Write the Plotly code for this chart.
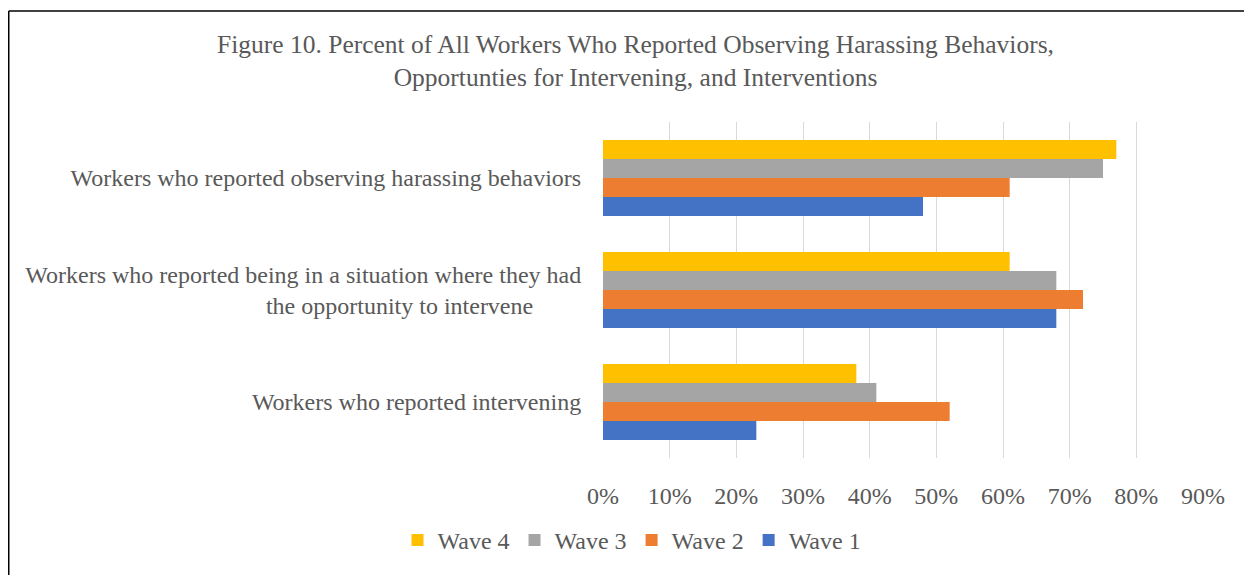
import plotly.graph_objects as go

categories = [
    "Workers who reported intervening",
    "Workers who reported being in a situation where they had<br>the opportunity to intervene" + "\u00a0" * 8,
    "Workers who reported observing harassing behaviors",
]
wave1 = [23, 68, 48]
wave2 = [52, 72, 61]
wave3 = [41, 68, 75]
wave4 = [38, 61, 77]
series_names = ["Wave 1", "Wave 2", "Wave 3", "Wave 4"]
series_colors = ["#4472C4", "#ED7D31", "#A5A5A5", "#FFC000"]
tick_vals = [0, 10, 20, 30, 40, 50, 60, 70, 80, 90]
tick_text = ["0%", "10%", "20%", "30%", "40%", "50%", "60%", "70%", "80%", "90%"]

FONT = "Liberation Serif, Times New Roman, serif"
GRAY = "#595959"

fig = go.Figure()
for name, vals, col in zip(series_names, [wave1, wave2, wave3, wave4], series_colors):
    fig.add_trace(go.Bar(
        y=categories, x=vals, name=name, orientation="h",
        marker=dict(color=col, line=dict(width=0)),
    ))

# page has an 8px body offset; work in figure coordinates
OFF = 8
W, H = 1252 - OFF, 575 - OFF
L, R, T, B = 603 - OFF, 1203 - OFF, 122 - OFF, 465 - OFF

fig.update_layout(
    width=W, height=H,
    margin=dict(l=L, r=W - R, t=T, b=H - B),
    paper_bgcolor="white", plot_bgcolor="white",
    barmode="group", bargap=0.32, bargroupgap=0,
    font=dict(family=FONT, color=GRAY, size=24),
    title=dict(
        text="Figure 10. Percent of All Workers Who Reported Observing Harassing Behaviors,<br>Opportunties for Intervening, and Interventions",
        x=(635.5 - OFF) / W, xanchor="center", xref="container",
        y=1 - 45 / H, yanchor="middle", yref="container",
        font=dict(family=FONT, size=25.5, color=GRAY),
    ),
    xaxis=dict(
        range=[0, 90], tickvals=tick_vals, ticktext=tick_text,
        showgrid=True, gridcolor="#D9D9D9", gridwidth=1.3,
        zeroline=False, showline=False,
        ticks="outside", ticklen=16, tickcolor="rgba(0,0,0,0)",
        tickfont=dict(family=FONT, size=24, color=GRAY),
    ),
    yaxis=dict(
        categoryorder="array", categoryarray=categories,
        showgrid=False, zeroline=False, showline=False,
        ticks="outside", ticklen=16, tickcolor="rgba(0,0,0,0)",
        tickfont=dict(family=FONT, size=24, color=GRAY),
    ),
    legend=dict(
        orientation="h", traceorder="reversed",
        x=(632 - OFF - L) / (R - L), xanchor="center",
        y=(B - (549 - OFF)) / (B - T), yanchor="middle",
        font=dict(family=FONT, size=24, color=GRAY),
        itemwidth=30,
    ),
    showlegend=True,
)

# border: left, top and right edges (bottom edge is cut off in the reference)
xl = (0.75 - L) / (R - L)
xr = (1250 - OFF - L) / (R - L)
yt = (B - 0.75) / (B - T)
yb = (B - (H + 20)) / (B - T)
for x0, y0, x1, y1 in [(xl, yb, xl, yt), (xl, yt, xr, yt), (xr, yt, xr, yb)]:
    fig.add_shape(
        type="line", xref="paper", yref="paper",
        x0=x0, y0=y0, x1=x1, y1=y1,
        line=dict(color="black", width=1.5), layer="below",
    )

fig.write_html("out.html")
